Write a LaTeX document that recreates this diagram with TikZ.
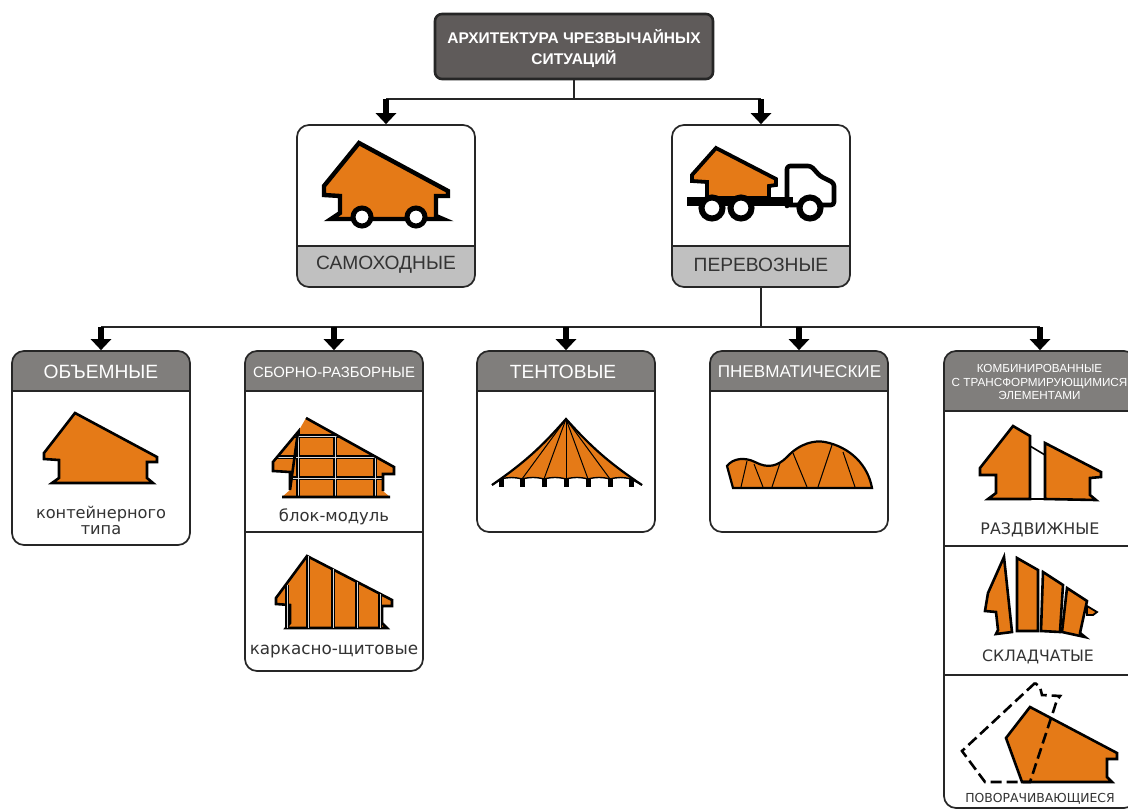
\documentclass[tikz,border=0pt]{standalone}
\usepackage{fontspec}
\setmainfont{Liberation Sans}
\newfontfamily\widefont{DejaVu Sans}
\usetikzlibrary{arrows.meta}
\definecolor{roof}{HTML}{E57A17}
\definecolor{headgray}{HTML}{807E7C}
\definecolor{lightband}{HTML}{C0C0C0}
\definecolor{topgray}{HTML}{5F5B5A}
\definecolor{inktext}{HTML}{333333}
\tikzset{
  panel/.style={draw=black!85, line width=1.7pt, rounded corners=12pt, fill=white, minimum width=178pt, inner sep=0pt},
  bandtop/.style={path picture={
      \fill[headgray, sharp corners] (path picture bounding box.north west) rectangle ++(200,#1);
      \draw[black!85, line width=1.7pt, sharp corners] (path picture bounding box.north west) ++(0,#1) -- ++(200,0);}},
  bandbottom/.style={path picture={
      \fill[lightband, sharp corners] (path picture bounding box.south west) rectangle ++(200,-#1);
      \draw[black!85, line width=1.7pt, sharp corners] (path picture bounding box.south west) ++(0,-#1) -- ++(200,0);}},
  wire/.style={draw=black!85, line width=1.4pt},
  fatarrow/.style={line width=6pt, -{Triangle[length=11pt,width=20pt]}},
  house/.style={fill=roof, draw=black, line width=2.6pt, line join=miter},
  rib/.style={draw=black, line width=1pt},
  bandtext/.style={text=white, inner sep=0pt, align=center},
  greytext/.style={text=inktext, inner sep=0pt, align=center},
  captext/.style={text=inktext, inner sep=0pt, align=center, font=\widefont},
  wheel/.style={fill=white, draw=black, line width=5pt},
}
\begin{document}
\begin{tikzpicture}[x=1pt,y=-1pt]
  \useasboundingbox (0,0) rectangle (1128,809);
  \clip (0,0) rectangle (1128,809);

  % boxes
  \node[panel, fill=topgray, line width=2.6pt, minimum width=278pt, minimum height=65pt, rounded corners=7pt] (arch) at (574,46.5) {};
  \node[panel, minimum height=162pt, bandbottom=41] (samokhod) at (386,206) {};
  \node[panel, minimum height=162pt, bandbottom=41] (perevoz) at (761,206) {};
  \node[panel, minimum height=194pt, bandtop=40] (obem) at (101,448) {};
  \node[panel, minimum height=320pt, bandtop=40] (sborno) at (334,511) {};
  \node[panel, minimum height=181pt, bandtop=40] (tent) at (566,441.5) {};
  \node[panel, minimum height=181pt, bandtop=40] (pnevmo) at (799,441.5) {};
  \node[panel, minimum width=192pt, minimum height=457pt, bandtop=60] (kombi) at (1040,579.5) {};
  \draw[wire] (sborno.west |- 0,532) -- (sborno.east |- 0,532);
  \draw[wire] (kombi.west |- 0,546) -- (kombi.east |- 0,546);
  \draw[wire] (kombi.west |- 0,675) -- (kombi.east |- 0,675);

  % connectors
  \coordinate (bustop) at (574,99);
  \coordinate (busrow) at (761,327);
  \draw[wire] (arch.south) -- (bustop);
  \draw[wire] (samokhod.north |- bustop) -- (perevoz.north |- bustop);
  \foreach \name in {samokhod,perevoz}
    \draw[fatarrow] (\name.north |- bustop) -- (\name.north);
  \draw[wire] (perevoz.south) -- (busrow);
  \draw[wire] (obem.north |- busrow) -- (kombi.north |- busrow);
  \foreach \name in {obem,sborno,tent,pnevmo,kombi}
    \draw[fatarrow] (\name.north |- busrow) -- (\name.north);

  % band labels
  \node[bandtext, font=\fontsize{15.5}{21}\selectfont\bfseries] (archtext) at (574,48.5) {АРХИТЕКТУРА ЧРЕЗВЫЧАЙНЫХ\\СИТУАЦИЙ};
  \node[greytext, font=\fontsize{19.2}{20}\selectfont] (samokhodtext) at (386,265) {САМОХОДНЫЕ};
  \node[greytext, font=\fontsize{19.2}{20}\selectfont] (perevoztext) at (761,265) {ПЕРЕВОЗНЫЕ};
  \node[bandtext, font=\fontsize{19.2}{20}\selectfont] (obemtext) at (101,372) {ОБЪЕМНЫЕ};
  \node[bandtext, font=\fontsize{14.9}{16}\selectfont] (sbornotext) at (334,372) {СБОРНО-РАЗБОРНЫЕ};
  \node[bandtext, font=\fontsize{19.1}{20}\selectfont] (tenttext) at (563,372) {ТЕНТОВЫЕ};
  \node[bandtext, font=\fontsize{17.1}{18}\selectfont] (pnevmotext) at (799.5,372) {ПНЕВМАТИЧЕСКИЕ};
  \node[bandtext, font=\fontsize{11.7}{13.5}\selectfont] (kombitext) at (1039.5,382) {КОМБИНИРОВАННЫЕ\\С ТРАНСФОРМИРУЮЩИМИСЯ\\ЭЛЕМЕНТАМИ};

  % captions
  \node[captext, font=\widefont\fontsize{16.2}{16}\selectfont] (konttext) at (101,520) {контейнерного\\типа};
  \node[captext, font=\widefont\fontsize{16.4}{16}\selectfont] (blocktext) at (334,517) {блок-модуль};
  \node[captext, font=\widefont\fontsize{16.8}{16}\selectfont] (karkastext) at (334,652) {каркасно-щитовые};
  \node[captext, font=\widefont\fontsize{15.9}{16}\selectfont] (razdtext) at (1040,530) {РАЗДВИЖНЫЕ};
  \node[captext, font=\widefont\fontsize{15.7}{16}\selectfont] (skladtext) at (1038,657) {СКЛАДЧАТЫЕ};
  \node[captext, font=\widefont\fontsize{12.4}{13}\selectfont] (povtext) at (1040,799) {ПОВОРАЧИВАЮЩИЕСЯ};

  % self-propelled house
  \draw[house, line width=4.4pt] (359,143) -- (448,191) -- (448,196) -- (436,196) -- (436,216) -- (443,219) -- (331,219) -- (340,213) -- (340,196) -- (324,195) -- (324,186) -- cycle;
  \draw[wheel] (362,217) circle (9);
  \draw[wheel] (416,217) circle (9);

  % truck
  \draw[house, line width=3.8pt] (716,148) -- (776,179) -- (776,185) -- (769,186) -- (769,198) -- (707,198) -- (707,182) -- (692,181) -- (692,175) -- cycle;
  \draw[fill=white, draw=black, line width=4.6pt, line join=round, rounded corners=3pt] (787,203) -- (787,166) -- (811,166) -- (820,176) -- (834,183) -- (834,205) -- (787,205) -- cycle;
  \fill[black] (687,197) rectangle (793,206);
  \draw[wheel, line width=6pt] (712,208) circle (10.5);
  \draw[wheel, line width=6pt] (741,208) circle (10.5);
  \draw[wheel, line width=6pt] (810,208) circle (10.5);

  % container house
  \draw[house] (75,413) -- (157,457) -- (157,462) -- (147,462) -- (147,478) -- (153,483) -- (52,483) -- (59,478) -- (59,460) -- (44,459) -- (44,453) -- cycle;

  % block house
  \begin{scope}
    \clip (306,418) -- (394,467) -- (394,474) -- (383,474) -- (383,491) -- (390,497) -- (282,497) -- (290,490) -- (290,472) -- (273,471) -- (273,462) -- (298,432) -- cycle;
    \fill[roof] (260,410) rectangle (400,500);
    \foreach \xpos in {298,335,375}
      \draw[black, line width=4.6pt] (\xpos,410) -- (\xpos,500);
    \foreach \ypos in {436,457,478}
      \draw[black, line width=4.6pt] (260,\ypos) -- (400,\ypos);
    \foreach \xpos in {298,335,375}
      \draw[white!70!gray, line width=.8pt] (\xpos,410) -- (\xpos,500);
    \foreach \ypos in {436,457,478}
      \draw[white!70!gray, line width=.8pt] (260,\ypos) -- (400,\ypos);
  \end{scope}
  \draw[black, line width=2.6pt] (306,418) -- (394,467) -- (394,474) -- (383,474) -- (383,491) (390,497) -- (282,497) (290,490) -- (290,472) -- (273,471) -- (273,462) -- (298,432) -- cycle;

  % panel house
  \draw[house] (307,556) -- (392,600) -- (392,606) -- (382,606) -- (382,623) -- (387,628) -- (286,628) -- (290,623) -- (290,605) -- (276,604) -- (276,598) -- cycle;
  \foreach \xpos/\ytop in {287/585,308/556,333/569,357/582,380/594}{
    \draw[black, line width=4pt] (\xpos,\ytop) -- (\xpos,628);
    \draw[white!70!gray, line width=.8pt] (\xpos,\ytop) -- (\xpos,628);
  }

  % tent
  \fill[roof] (566,419) to[bend left=7] (492,485) -- (501,479) to[bend left=14] (522,479) to[bend left=14] (544,479) to[bend left=14] (566,479) to[bend left=14] (588,479) to[bend left=14] (610,479) to[bend left=14] (631,479) -- (642,485) to[bend left=7] cycle;
  \foreach \xpos in {522,544,566,588,610}
    \draw[rib] (566,419) -- (\xpos,479);
  \draw[black, line width=2.2pt] (492,485) to[bend right=7] (566,419) to[bend right=7] (642,485);
  \draw[black, line width=1.4pt] (492,485) -- (501,479) to[bend left=14] (522,479) to[bend left=14] (544,479) to[bend left=14] (566,479) to[bend left=14] (588,479) to[bend left=14] (610,479) to[bend left=14] (631,479) -- (642,485);
  \foreach \xpos in {501,522,544,566,588,610,631}
    \fill[black] (\xpos-2.5,479) rectangle (\xpos+2.5,487);

  % pneumatic shell
  \draw[house, line width=2.2pt] (733,488) -- (727,466) .. controls (733,458) and (745,457) .. (755,462) .. controls (768,469) and (778,466) .. (787,457) .. controls (800,443) and (815,440) .. (825,442) .. controls (850,447) and (868,465) .. (872,488) -- cycle;
  \foreach \xa/\ya/\xb in {747/461/741,754/464/763,780/463/772,793/453/807,832/445/818,843/452/855}
    \draw[rib] (\xa,\ya) -- (\xb,487);

  % sliding house
  \draw[black, line width=1.6pt] (1030,446) -- (1045,455) (1030,499) -- (1045,499);
  \draw[house] (1013,426) -- (1030,436) -- (1030,499) -- (988,499) -- (996,493) -- (996,475) -- (980,475) -- (980,468) -- cycle;
  \draw[house] (1045,443) -- (1101,472) -- (1101,477) -- (1090,478) -- (1090,495) -- (1096,500) -- (1045,499) -- cycle;

  % folding house
  \draw[house] (1004,557) -- (1012,632) -- (996,634) -- (998,630) -- (996,612) -- (985,611) -- (988,593) -- cycle;
  \draw[house] (1017,558) -- (1038,570) -- (1038,631) -- (1017,631) -- cycle;
  \draw[house] (1043,572) -- (1063,585) -- (1060,632) -- (1041,631) -- cycle;
  \draw[house] (1067,588) -- (1087,601) -- (1080,633) -- (1085,637) -- (1062,632) -- cycle;
  \draw[house, line width=1.8pt] (1087,606) -- (1097,612) -- (1093,615) -- (1087,615) -- cycle;

  % turning house
  \draw[house] (1030,707) -- (1117,753) -- (1117,759) -- (1107,759) -- (1107,777) -- (1112,782) -- (1022,782) -- (1006,738) -- cycle;
  \draw[black, line width=2.6pt, dash pattern=on 11pt off 5pt] (1035,683) -- (962,751) -- (985,782) -- (1030,782) -- (1057,700) -- (1060,696) -- (1042,695) -- (1040,687) -- cycle;
\end{tikzpicture}
\end{document}
